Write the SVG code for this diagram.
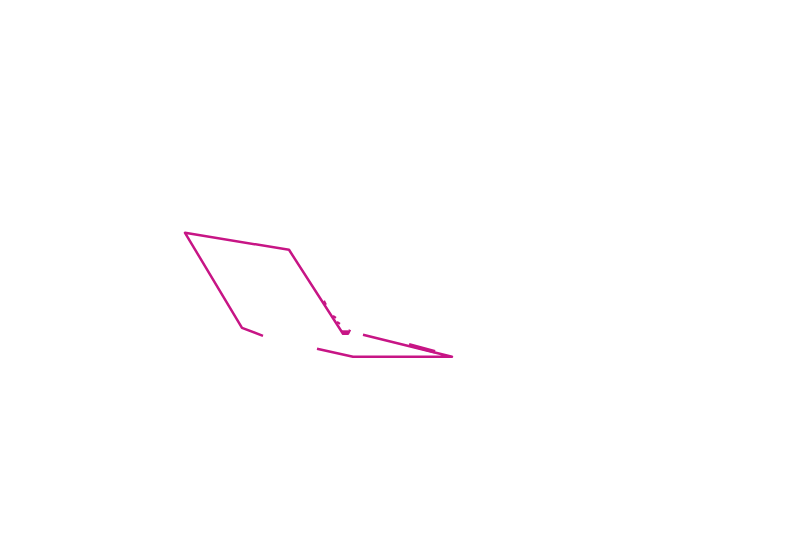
<svg xmlns="http://www.w3.org/2000/svg" width="789" height="555" viewBox="0 0 789 555">
<style>
.s{fill:none;stroke:#C71585;stroke-width:2.5;stroke-linejoin:round;stroke-linecap:butt}
.t{fill:none;stroke:#C71585;stroke-width:2;stroke-linecap:butt}
</style>
<rect width="789" height="555" fill="#ffffff"/>
<g id="shape" transform="translate(0,0.8)">
<path class="s" d="M263,335 L242,327 L185,232 L289,249 L343,333 L348,333 L350,329"/>
<path class="s" d="M342,331 L348,331" style="stroke-width:3"/>
<path class="s" d="M363,334 L452,356 L353,356 L317,348"/>
<path class="t" d="M324,300 L326,304 M333,315 L336,317 M337,321 L340,323"/>
<path class="s" d="M409,344 L435,351" style="stroke-width:3.5"/>
</g>
</svg>
